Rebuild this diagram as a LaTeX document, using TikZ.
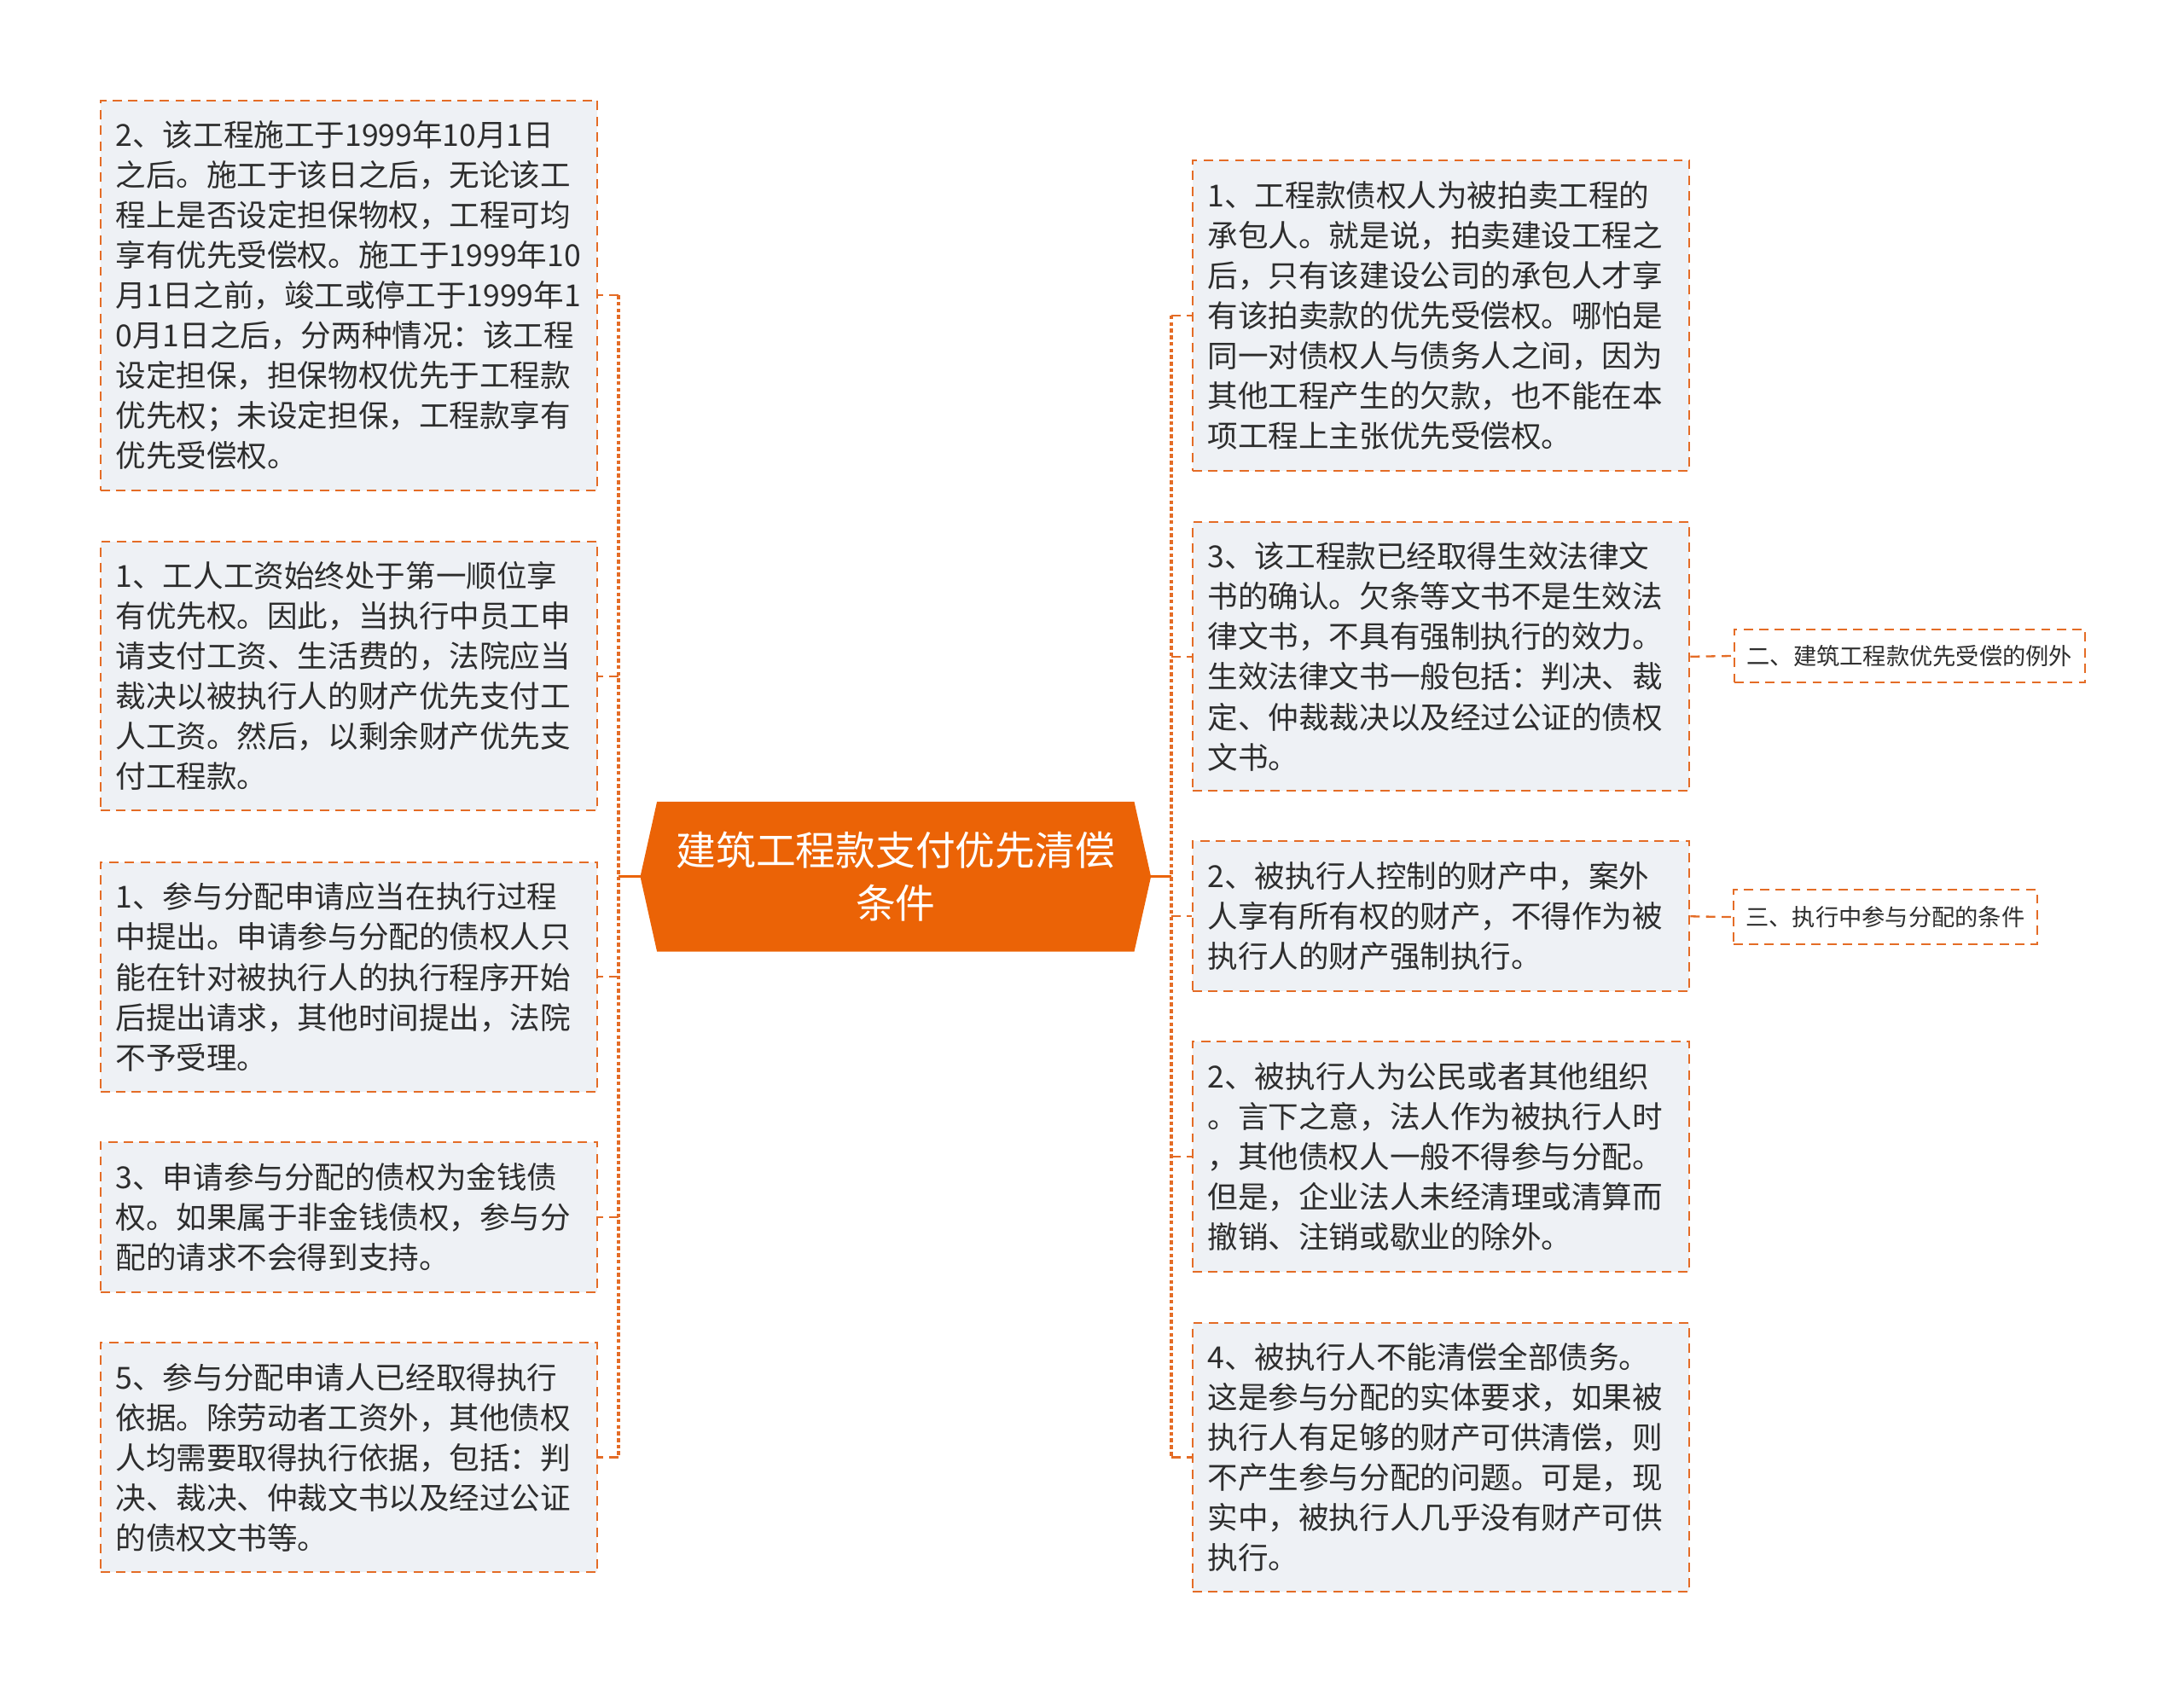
\documentclass[tikz,border=0pt]{standalone}
\usepackage{fontspec}
\newfontfamily\cjk{Noto Sans CJK SC}
\usetikzlibrary{calc}
\pgfdeclarelayer{background}
\pgfsetlayers{background,main}
\definecolor{mainorange}{RGB}{235,99,6}
\definecolor{lineorange}{RGB}{228,108,38}
\definecolor{boxgrey}{RGB}{238,241,245}
\definecolor{txtgrey}{RGB}{45,45,45}

\begin{document}
\begin{tikzpicture}[x=0.02cm,y=-0.02cm,
    leaf/.style={draw=lineorange,line width=0.7pt,dash pattern=on 3.8pt off 2.6pt,
      fill=boxgrey,text=txtgrey,minimum width=7.14cm,text width=6.70cm,inner xsep=0.22cm,
      align=left,font=\cjk\fontsize{12.4}{16.4}\selectfont},
    tag/.style={draw=lineorange,line width=0.7pt,dash pattern=on 3.8pt off 2.6pt,
      text=txtgrey,inner xsep=0.18cm,font=\cjk\fontsize{9.5}{12}\selectfont},
    trunk/.style={draw=lineorange,line width=1.5pt,dash pattern=on 1.6pt off 1.1pt},
    twig/.style={draw=lineorange,line width=0.8pt,dash pattern=on 3.8pt off 2.6pt},
    stem/.style={draw=mainorange,line width=1pt}]
      \useasboundingbox (0,0) rectangle (1568,1216);

      % centre
      \node[text=white,minimum width=7.32cm,minimum height=2.14cm,align=center,
        font=\cjk\fontsize{16.3}{21.6}\selectfont] (ctr) at (643,629.5)
        {建筑工程款支付优先清偿\\条件};
      \begin{pgfonlayer}{background}
      \fill[mainorange] (ctr.west) -- ($(ctr.north west)+(12,0)$) -- ($(ctr.north east)+(-12,0)$)
        -- (ctr.east) -- ($(ctr.south east)+(-12,0)$) -- ($(ctr.south west)+(12,0)$) -- cycle;
      \end{pgfonlayer}

      % left side
      \node[leaf,minimum height=5.6cm] (l1) at (250.5,212) {2、该工程施工于1999年10月1日\\之后。施工于该日之后，无论该工\\程上是否设定担保物权，工程可均\\享有优先受偿权。施工于1999年10\\月1日之前，竣工或停工于1999年1\\0月1日之后，分两种情况：该工程\\设定担保，担保物权优先于工程款\\优先权；未设定担保，工程款享有\\优先受偿权。};
      \node[leaf,minimum height=3.86cm] (l2) at (250.5,485.5) {1、工人工资始终处于第一顺位享\\有优先权。因此，当执行中员工申\\请支付工资、生活费的，法院应当\\裁决以被执行人的财产优先支付工\\人工资。然后，以剩余财产优先支\\付工程款。};
      \node[leaf,minimum height=3.3cm] (l3) at (250.5,701.5) {1、参与分配申请应当在执行过程\\中提出。申请参与分配的债权人只\\能在针对被执行人的执行程序开始\\后提出请求，其他时间提出，法院\\不予受理。};
      \node[leaf,minimum height=2.16cm] (l4) at (250.5,874) {3、申请参与分配的债权为金钱债\\权。如果属于非金钱债权，参与分\\配的请求不会得到支持。};
      \node[leaf,minimum height=3.3cm] (l5) at (250.5,1046.5) {5、参与分配申请人已经取得执行\\依据。除劳动者工资外，其他债权\\人均需要取得执行依据，包括：判\\决、裁决、仲裁文书以及经过公证\\的债权文书等。};

      % right side
      \node[leaf,minimum height=4.46cm] (r1) at (1034.5,226.5) {1、工程款债权人为被拍卖工程的\\承包人。就是说，拍卖建设工程之\\后，只有该建设公司的承包人才享\\有该拍卖款的优先受偿权。哪怕是\\同一对债权人与债务人之间，因为\\其他工程产生的欠款，也不能在本\\项工程上主张优先受偿权。};
      \node[leaf,minimum height=3.86cm] (r2) at (1034.5,471.5) {3、该工程款已经取得生效法律文\\书的确认。欠条等文书不是生效法\\律文书，不具有强制执行的效力。\\生效法律文书一般包括：判决、裁\\定、仲裁裁决以及经过公证的债权\\文书。};
      \node[leaf,minimum height=2.16cm] (r3) at (1034.5,658) {2、被执行人控制的财产中，案外\\人享有所有权的财产，不得作为被\\执行人的财产强制执行。};
      \node[leaf,minimum height=3.3cm] (r4) at (1034.5,830.5) {2、被执行人为公民或者其他组织\\。言下之意，法人作为被执行人时\\，其他债权人一般不得参与分配。\\但是，企业法人未经清理或清算而\\撤销、注销或歇业的除外。};
      \node[leaf,minimum height=3.86cm] (r5) at (1034.5,1046.5) {4、被执行人不能清偿全部债务。\\这是参与分配的实体要求，如果被\\执行人有足够的财产可供清偿，则\\不产生参与分配的问题。可是，现\\实中，被执行人几乎没有财产可供\\执行。};

      \node[tag,minimum width=5.04cm,minimum height=0.76cm] (t1) at (1371,471) {二、建筑工程款优先受偿的例外};
      \node[tag,minimum width=4.34cm,minimum height=0.78cm] (t2) at (1353.5,658.5) {三、执行中参与分配的条件};

      % connectors
      \coordinate (lt) at (444,0);
      \coordinate (rt) at (841,0);
      \draw[stem] (ctr.west) -- (ctr.west -| lt);
      \draw[stem] (ctr.east) -- (ctr.east -| rt);
      \draw[trunk] (l1.east -| lt) -- (l5.east -| lt);
      \draw[trunk] (r1.west -| rt) -- (r5.west -| rt);
      \foreach \n in {l1,l2,l3,l4,l5}
        \draw[twig] (\n.east -| lt) -- (\n.east);
      \foreach \n in {r1,r2,r3,r4,r5}
        \draw[twig] (\n.west -| rt) -- (\n.west);
      \draw[twig] (r2.east) -- (t1.west);
      \draw[twig] (r3.east) -- (t2.west);
\end{tikzpicture}
\end{document}
